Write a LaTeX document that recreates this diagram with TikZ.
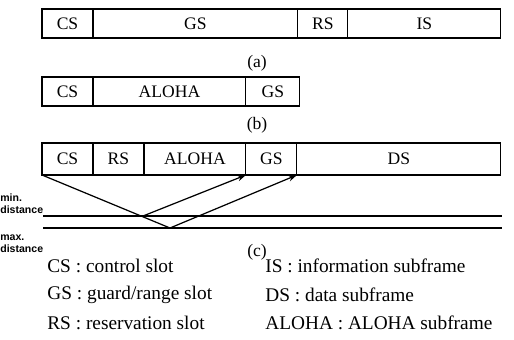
\documentclass[tikz,border=0pt]{standalone}
\usepackage{fontspec}
\setmainfont{Liberation Serif}
\newfontfamily\tagfont{Liberation Sans}
\usetikzlibrary{positioning,arrows.meta}
\tikzset{
  slot/.style={draw, line width=0.6pt, minimum height=0.58cm, inner sep=0pt,
    outer sep=0pt, anchor=north west, font=\fontsize{10}{12}\selectfont},
  caption/.style={font=\fontsize{10}{12}\selectfont, inner sep=0pt},
  legend/.style={anchor=west, inner sep=0pt, font=\fontsize{11}{13}\selectfont},
  tag/.style={anchor=west, align=left, inner sep=0pt,
    font=\tagfont\bfseries\fontsize{6}{10}\selectfont},
  echo/.style={line width=0.7pt, -{Stealth[length=5pt, width=3.5pt]}}
}
\begin{document}
\begin{tikzpicture}[x=0.02cm, y=-0.02cm]
    \useasboundingbox (0,0) rectangle (514,339);

    % Frame (a)
    \node[slot, minimum width=1.02cm] (aCS) at (42,9) {CS};
    \node[slot, minimum width=4.10cm] (aGS) at (aCS.north east) {GS};
    \node[slot, minimum width=1.00cm] (aRS) at (aGS.north east) {RS};
    \node[slot, minimum width=3.06cm] (aIS) at (aRS.north east) {IS};
    \node[caption] (capA) at (257,63) {(a)};

    % Frame (b)
    \node[slot, minimum width=1.02cm] (bCS) at (42,77) {CS};
    \node[slot, minimum width=3.06cm] (bALOHA) at (bCS.north east) {ALOHA};
    \node[slot, minimum width=1.08cm] (bGS) at (bALOHA.north east) {GS};
    \node[caption] (capB) at (257,125) {(b)};

    % Frame (c)
    \node[slot, minimum width=1.02cm, minimum height=0.64cm] (cCS) at (42,143) {CS};
    \node[slot, minimum width=1.02cm, minimum height=0.64cm] (cRS) at (cCS.north east) {RS};
    \node[slot, minimum width=2.04cm, minimum height=0.64cm] (cALOHA) at (cRS.north east) {ALOHA};
    \node[slot, minimum width=1.02cm, minimum height=0.64cm] (cGS) at (cALOHA.north east) {GS};
    \node[slot, minimum width=4.08cm, minimum height=0.64cm] (cDS) at (cGS.north east) {DS};
    \node[caption] (capC) at (257,252) {(c)};

    % Distance lines
    \coordinate (minL) at (43,216);
    \coordinate (minR) at (502,216);
    \coordinate (maxL) at (43,228);
    \coordinate (maxR) at (502,228);
    \draw[line width=0.6pt] (minL) -- (minR);
    \draw[line width=0.6pt] (maxL) -- (maxR);
    \node[tag] (minTag) at (0,204) {min.\\[-3pt]distance};
    \node[tag] (maxTag) at (0,244) {max.\\[-3pt]distance};

    % Echo paths
    \coordinate (hitMin) at (143,216);
    \coordinate (hitMax) at (170,228);
    \draw[line width=0.7pt] (cCS.south west) -- (hitMax);
    \draw[echo] (hitMin) -- (cALOHA.south east);
    \draw[echo] (hitMax) -- (cGS.south east);

    % Legend
    \node[legend] (lgCS) at (47,266) {CS : control slot};
    \node[legend] (lgGS) at (47,295) {GS : guard/range slot};
    \node[legend] (lgRS) at (47,323) {RS : reservation slot};
    \node[legend] (lgIS) at (265,266) {IS : information subframe};
    \node[legend] (lgDS) at (265,295) {DS : data subframe};
    \node[legend] (lgALOHA) at (265,323) {ALOHA : ALOHA subframe};
\end{tikzpicture}
\end{document}
